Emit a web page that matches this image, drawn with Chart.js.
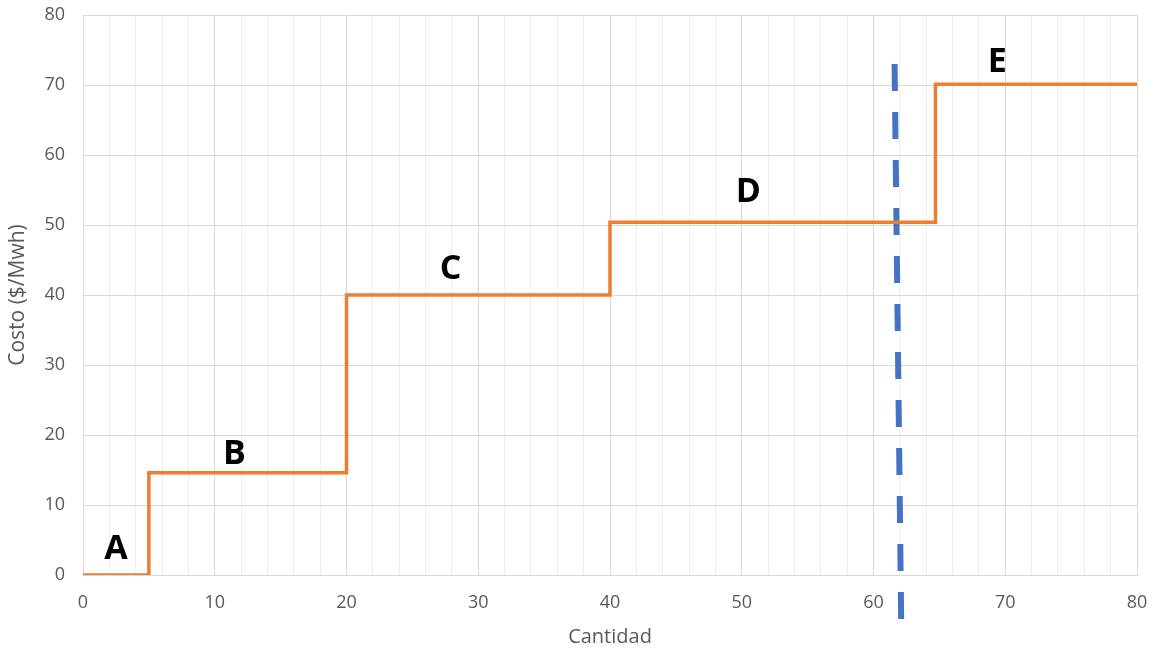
<!DOCTYPE html>
<html>
<head>
<meta charset="utf-8">
<script src="https://cdn.jsdelivr.net/npm/chart.js@4.4.1/dist/chart.umd.min.js"></script>
<style>
  html, body { margin: 0; padding: 0; background: #fff; }
  #wrap { width: 1155px; height: 650px; position: relative; }
</style>
</head>
<body>
<div id="wrap"><canvas id="c" width="1155" height="650"></canvas></div>
<script>
// Supply curve (step) data
const stepX = [0, 5, 20, 40, 64.7, 80];
const stepY = [0, 14.6, 40, 50.4, 70.1, 70.1];

// Demand (vertical dashed) line
const demandX = [61.6, 62.1];
const demandY = [73, -6.3];

// Block labels
const blockNames = ['A', 'B', 'C', 'D', 'E'];
const labelX = [2.5, 11.5, 27.9, 50.5, 69.4];
const labelY = [3.6, 17.3, 43.6, 54.7, 73.3];

const xTitle = 'Cantidad';
const yTitle = 'Costo ($/Mwh)';

const FONT = '"Open Sans", "Liberation Sans", sans-serif';

const labelPlugin = {
  id: 'blockLabels',
  afterDatasetsDraw(chart) {
    const ctx = chart.ctx;
    const xs = chart.scales.x, ys = chart.scales.y;
    ctx.save();
    ctx.font = 'bold 34px ' + FONT;
    ctx.fillStyle = '#000';
    ctx.textAlign = 'center';
    ctx.textBaseline = 'middle';
    blockNames.forEach((n, i) => {
      ctx.fillText(n, xs.getPixelForValue(labelX[i]), ys.getPixelForValue(labelY[i]));
    });
    ctx.restore();
  }
};

new Chart(document.getElementById('c'), {
  type: 'scatter',
  data: {
    datasets: [
      {
        data: stepX.map((x, i) => ({ x: x, y: stepY[i] })),
        showLine: true,
        stepped: 'before',
        borderColor: '#ED7D31',
        borderWidth: 3.5,
        pointRadius: 0,
        fill: false
      },
      {
        data: demandX.map((x, i) => ({ x: x, y: demandY[i] })),
        showLine: true,
        borderColor: '#4472C4',
        borderWidth: 6,
        borderDash: [27, 21],
        pointRadius: 0,
        clip: false,
        fill: false
      }
    ]
  },
  options: {
    responsive: false,
    animation: false,
    layout: { padding: { top: 15, right: 18, left: 0, bottom: 0 } },
    plugins: { legend: { display: false }, tooltip: { enabled: false } },
    scales: {
      x: {
        type: 'linear',
        min: 0, max: 80,
        afterFit(s) { s.height = 75; s.paddingLeft = 0; s.paddingRight = 0; },
        grid: {
          drawTicks: false,
          color: (c) => (c.tick && c.tick.value % 10 === 0) ? '#d9d9d9' : '#efefef',
          lineWidth: 1
        },
        border: { color: '#d9d9d9' },
        ticks: {
          stepSize: 2,
          autoSkip: false,
          maxRotation: 0,
          padding: 17,
          color: '#595959',
          font: { family: FONT, size: 18 },
          callback: (v) => (v % 10 === 0 ? String(v) : '')
        },
        title: {
          display: true,
          text: xTitle,
          color: '#595959',
          font: { family: FONT, size: 20 },
          padding: { top: 0, bottom: 1 }
        }
      },
      y: {
        type: 'linear',
        min: 0, max: 80,
        afterFit(s) { s.width = 83; s.paddingTop = 0; s.paddingBottom = 0; },
        grid: { drawTicks: false, color: '#d9d9d9', lineWidth: 1 },
        border: { color: '#d9d9d9' },
        ticks: {
          stepSize: 10,
          padding: 18,
          color: '#595959',
          font: { family: FONT, size: 18 }
        },
        title: {
          display: true,
          text: yTitle,
          color: '#595959',
          font: { family: FONT, size: 21 },
          padding: { top: 5, bottom: 0 }
        }
      }
    }
  },
  plugins: [labelPlugin]
});
</script>
</body>
</html>
